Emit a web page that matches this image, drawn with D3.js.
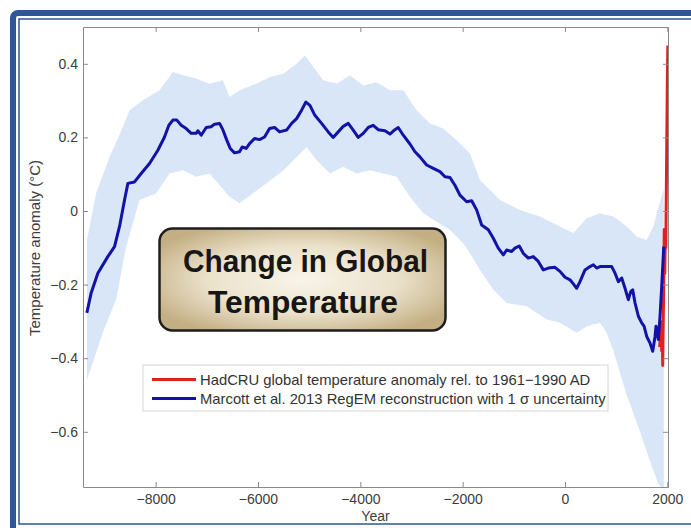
<!DOCTYPE html>
<html>
<head>
<meta charset="utf-8">
<script src="https://cdn.jsdelivr.net/npm/d3@7"></script>
<style>
  html, body { margin: 0; padding: 0; background: #fff; }
  svg { display: block; }
</style>
</head>
<body>
<svg id="chart" width="691" height="528"></svg>
<script>
// Marcott et al. 2013 RegEM reconstruction (year AD, anomaly in °C)
const marcottYears = [-9345,-9261,-9130,-8935,-8804,-8706,-8608,-8543,-8413,-8283,-8120,-7957,-7827,-7742,-7664,-7586,-7501,-7403,-7306,-7208,-7175,-7110,-7012,-6915,-6849,-6751,-6687,-6608,-6543,-6458,-6360,-6309,-6230,-6165,-6067,-5969,-5871,-5774,-5676,-5578,-5441,-5343,-5245,-5148,-5064,-4985,-4888,-4757,-4627,-4530,-4432,-4334,-4236,-4139,-4041,-3943,-3845,-3748,-3650,-3519,-3421,-3324,-3259,-3161,-3030,-2932,-2835,-2704,-2574,-2444,-2346,-2248,-2151,-2053,-1922,-1824,-1727,-1629,-1499,-1401,-1304,-1206,-1141,-1043,-978,-894,-815,-717,-620,-522,-424,-326,-196,-98,0,98,163,228,293,391,489,554,619,684,815,913,978,1043,1108,1173,1238,1284,1323,1369,1434,1499,1545,1597,1662,1714,1760,1779,1825,1857,1890,1930];
const marcottTemps = [-0.277,-0.223,-0.169,-0.124,-0.097,-0.042,0.030,0.075,0.079,0.102,0.129,0.165,0.201,0.233,0.247,0.247,0.233,0.224,0.211,0.211,0.218,0.206,0.227,0.229,0.236,0.238,0.221,0.192,0.170,0.158,0.161,0.174,0.170,0.183,0.197,0.194,0.201,0.224,0.227,0.215,0.220,0.238,0.251,0.274,0.296,0.287,0.260,0.238,0.215,0.200,0.215,0.230,0.238,0.220,0.200,0.211,0.227,0.233,0.221,0.218,0.209,0.221,0.227,0.206,0.182,0.161,0.147,0.125,0.116,0.107,0.093,0.091,0.070,0.043,0.025,0.028,0.003,-0.038,-0.051,-0.074,-0.101,-0.119,-0.106,-0.110,-0.101,-0.095,-0.115,-0.128,-0.124,-0.137,-0.160,-0.155,-0.153,-0.164,-0.180,-0.187,-0.198,-0.210,-0.192,-0.160,-0.151,-0.146,-0.155,-0.151,-0.151,-0.151,-0.169,-0.192,-0.182,-0.210,-0.241,-0.219,-0.214,-0.250,-0.286,-0.304,-0.313,-0.341,-0.359,-0.381,-0.341,-0.313,-0.349,-0.286,-0.205,-0.097];

// 1 sigma envelope: upper edge
const upperYears = [-9345,-9163,-8901,-8641,-8510,-8250,-7924,-7664,-7468,-7208,-6947,-6687,-6555,-6360,-6035,-5767,-5506,-5245,-5083,-4920,-4724,-4463,-4203,-3943,-3682,-3421,-3161,-2900,-2639,-2379,-2118,-1857,-1662,-1271,-880,-489,-98,163,424,684,945,1206,1401,1597,1727,1825,1890,1930];
const upperTemps = [-0.080,0.048,0.147,0.228,0.274,0.301,0.328,0.378,0.369,0.360,0.346,0.355,0.310,0.328,0.346,0.364,0.373,0.400,0.423,0.391,0.355,0.346,0.369,0.341,0.350,0.328,0.328,0.274,0.238,0.224,0.192,0.156,0.084,0.030,0.003,-0.015,-0.042,-0.060,-0.020,-0.006,-0.015,-0.042,-0.070,-0.079,-0.042,0.010,0.040,0.060];

// 1 sigma envelope: lower edge
const lowerYears = [-9345,-9032,-8772,-8577,-8315,-7991,-7729,-7468,-7208,-6947,-6555,-6360,-5840,-5506,-5245,-5050,-4855,-4594,-4334,-4073,-3812,-3552,-3291,-3030,-2770,-2509,-2248,-1988,-1857,-1662,-1401,-1141,-750,-358,-98,228,424,684,815,945,1206,1466,1662,1818,1930];
const lowerTemps = [-0.460,-0.330,-0.240,-0.097,0.030,0.048,0.102,0.111,0.093,0.102,0.039,0.021,0.075,0.110,0.147,0.174,0.138,0.102,0.120,0.102,0.111,0.102,0.093,0.039,-0.006,-0.029,-0.051,-0.088,-0.115,-0.160,-0.214,-0.250,-0.259,-0.295,-0.304,-0.331,-0.313,-0.304,-0.331,-0.380,-0.500,-0.600,-0.680,-0.740,-0.760];

// HadCRU instrumental record, anomaly rel. to 1961-1990
const hadcruYears = [1850,1860,1870,1880,1890,1900,1910,1920,1930,1940,1950,1960,1970,1980,1990,2000,2010];
const hadcruTemps = [-0.37,-0.35,-0.30,-0.33,-0.38,-0.30,-0.42,-0.30,-0.20,-0.05,-0.17,-0.08,-0.10,0.05,0.20,0.35,0.45];

const xTicks = [-8000, -6000, -4000, -2000, 0, 2000];
const yTicks = [-0.6, -0.4, -0.2, 0, 0.2, 0.4];
const xLabel = "Year";
const yLabel = "Temperature anomaly (°C)";
const legendLabels = [
  "HadCRU global temperature anomaly rel. to 1961\u22121990 AD",
  "Marcott et al. 2013 RegEM reconstruction with 1 \u03c3 uncertainty"
];
const titleLines = ["Change in Global", "Temperature"];

const svg = d3.select("#chart");
const font = "'Liberation Sans', Arial, Helvetica, sans-serif";

// outer page frame
svg.append("rect")
  .attr("x", 13).attr("y", 13).attr("width", 710).attr("height", 520).attr("rx", 5)
  .attr("fill", "none").attr("stroke", "#2f559a").attr("stroke-width", 6);
svg.append("rect")
  .attr("x", 19).attr("y", 19).attr("width", 700).attr("height", 505)
  .attr("fill", "none").attr("stroke", "#2f559a").attr("stroke-width", 1.5);

const plot = { left: 83, top: 27, right: 668, bottom: 487 };
const x = d3.scaleLinear().domain([-9420, 2013]).range([plot.left, plot.right]);
const y = d3.scaleLinear().domain([-0.75, 0.5]).range([plot.bottom, plot.top]);

svg.append("defs").append("clipPath").attr("id", "plotClip")
  .append("rect")
  .attr("x", plot.left).attr("y", plot.top)
  .attr("width", plot.right - plot.left).attr("height", plot.bottom - plot.top);

const g = svg.append("g").attr("clip-path", "url(#plotClip)");

// uncertainty envelope
const upperPts = upperYears.map((yr, i) => [x(yr), y(upperTemps[i])]);
const lowerPts = lowerYears.map((yr, i) => [x(yr), y(lowerTemps[i])]).reverse();
g.append("path")
  .attr("d", d3.line()(upperPts.concat(lowerPts)) + "Z")
  .attr("fill", "#d9e6f8").attr("stroke", "none");

const line = d3.line().x(d => x(d[0])).y(d => y(d[1]));

g.append("path")
  .datum(hadcruYears.map((yr, i) => [yr, hadcruTemps[i]]))
  .attr("d", line)
  .attr("fill", "none").attr("stroke", "#e3201e").attr("stroke-width", 3)
  .attr("stroke-linejoin", "round");

g.append("path")
  .datum(marcottYears.map((yr, i) => [yr, marcottTemps[i]]))
  .attr("d", line)
  .attr("fill", "none").attr("stroke", "#1212a6").attr("stroke-width", 3)
  .attr("stroke-linejoin", "round");

// axes (ticks point inward)
const axisColor = "#8a8a8a";
function styleAxis(sel) {
  sel.selectAll(".domain").attr("stroke", axisColor);
  sel.selectAll(".tick line").attr("stroke", axisColor);
  sel.selectAll(".tick text").attr("fill", "#3c3c3c")
    .style("font-family", font).style("font-size", "14px");
}
svg.append("g").attr("transform", `translate(0,${plot.bottom})`)
  .call(d3.axisBottom(x).tickValues(xTicks).tickFormat(d3.format("d"))
    .tickSize(-5).tickSizeOuter(0).tickPadding(7))
  .call(styleAxis);
svg.append("g").attr("transform", `translate(0,${plot.top})`)
  .call(d3.axisTop(x).tickValues(xTicks).tickFormat("").tickSize(-5).tickSizeOuter(0))
  .call(styleAxis);
svg.append("g").attr("transform", `translate(${plot.left},0)`)
  .call(d3.axisLeft(y).tickValues(yTicks).tickFormat(d3.format(""))
    .tickSize(-5).tickSizeOuter(0).tickPadding(5))
  .call(styleAxis);
svg.append("g").attr("transform", `translate(${plot.right},0)`)
  .call(d3.axisRight(y).tickValues(yTicks).tickFormat("").tickSize(-5).tickSizeOuter(0))
  .call(styleAxis);

// axis titles
svg.append("text")
  .attr("x", (plot.left + plot.right) / 2).attr("y", 521)
  .attr("text-anchor", "middle").attr("fill", "#3c3c3c")
  .style("font-family", font).style("font-size", "14px")
  .text(xLabel);
svg.append("text")
  .attr("transform", "translate(40,248) rotate(-90)")
  .attr("text-anchor", "middle").attr("fill", "#3c3c3c")
  .style("font-family", font).style("font-size", "15px")
  .text(yLabel);

// legend
const legend = svg.append("g");
legend.append("rect")
  .attr("x", 143).attr("y", 365).attr("width", 465).attr("height", 46)
  .attr("fill", "#fff").attr("stroke", "#d6d6d6").attr("stroke-width", 1);
const legendColors = ["#e3201e", "#1212a6"];
legendLabels.forEach((lab, i) => {
  const ly = 379.5 + i * 19;
  legend.append("line")
    .attr("x1", 152).attr("x2", 196).attr("y1", ly).attr("y2", ly)
    .attr("stroke", legendColors[i]).attr("stroke-width", 3);
  legend.append("text")
    .attr("x", 200).attr("y", ly + 5)
    .attr("fill", "#333").style("font-family", font).style("font-size", "14.8px")
    .text(lab);
});

// title badge
const grad = svg.select("defs").append("radialGradient")
  .attr("id", "badgeFill").attr("cx", "50%").attr("cy", "50%").attr("r", "60%");
grad.append("stop").attr("offset", "0%").attr("stop-color", "#f8f4e8");
grad.append("stop").attr("offset", "55%").attr("stop-color", "#ebe2cb");
grad.append("stop").attr("offset", "100%").attr("stop-color", "#c3af83");

svg.append("rect")
  .attr("x", 159.5).attr("y", 228.5).attr("width", 286).attr("height", 102).attr("rx", 13)
  .attr("fill", "url(#badgeFill)").attr("stroke", "#1e1e1e").attr("stroke-width", 2.5);

const titleSpecs = [
  { cx: 305.5, base: 272, len: 245 },
  { cx: 303, base: 313, len: 190 }
];
titleLines.forEach((t, i) => {
  svg.append("text")
    .attr("x", titleSpecs[i].cx).attr("y", titleSpecs[i].base)
    .attr("text-anchor", "middle")
    .attr("textLength", titleSpecs[i].len).attr("lengthAdjust", "spacingAndGlyphs")
    .attr("fill", "#161616")
    .style("font-family", font).style("font-size", "31px").style("font-weight", "bold")
    .text(t);
});
</script>
</body>
</html>
